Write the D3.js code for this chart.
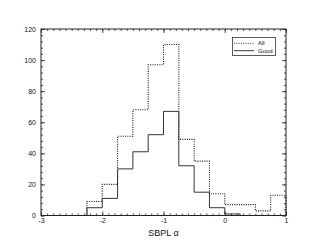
<!DOCTYPE html>
<html><head><meta charset="utf-8">
<script src="https://cdn.jsdelivr.net/npm/d3@7"></script>
<style>
body{margin:0;background:#fff;}
svg{display:block;font-family:"Liberation Sans",Arial,Helvetica,sans-serif;}
</style></head>
<body>
<script>
// Bin edges (SBPL alpha), width 0.25
const binEdges = [-3,-2.75,-2.5,-2.25,-2,-1.75,-1.5,-1.25,-1,-0.75,-0.5,-0.25,0,0.25,0.5,0.75,1];
const allCounts  = [0,0,0,9,20,51,68,97,110,49,35,14,7,7,3,13];
const goodCounts = [0,0,0,5,11,30,41,52,67,32,15,5,1,0,0,0];
const seriesNames = ["All","Good"];
const xTicks = [-3,-2,-1,0,1];
const yTicks = [0,20,40,60,80,100,120];
const xTitle = "SBPL \u03b1";

const W=311,H=249;
const m={l:41,r:25,t:29,b:33.5};
const svg=d3.select("body").append("svg").attr("width",W).attr("height",H);
const x=d3.scaleLinear().domain([-3,1]).range([m.l,W-m.r]);
const y=d3.scaleLinear().domain([0,120]).range([H-m.b,m.t]);

const g=svg.append("g");
const col="#222";

// minor ticks
const xMinor=d3.range(-3,1.0001,0.1).map(v=>+v.toFixed(2));
const yMinor=d3.range(0,120.001,4);

function axisG(axis,tr){
  const a=g.append("g").attr("transform",tr).call(axis);
  a.select(".domain").remove();
  a.selectAll("line").attr("stroke",col).attr("stroke-width",0.8);
  a.selectAll("text").attr("fill","#111").attr("font-size","7px");
  return a;
}
// bottom
axisG(d3.axisBottom(x).tickValues(xMinor).tickSize(-2).tickFormat(""),`translate(0,${H-m.b})`);
axisG(d3.axisBottom(x).tickValues(xTicks).tickSize(-4).tickPadding(3).tickFormat(d=>String(d)),`translate(0,${H-m.b})`);
// top
axisG(d3.axisTop(x).tickValues(xMinor).tickSize(-2).tickFormat(""),`translate(0,${m.t})`);
axisG(d3.axisTop(x).tickValues(xTicks).tickSize(-4).tickFormat(""),`translate(0,${m.t})`);
// left
axisG(d3.axisLeft(y).tickValues(yMinor).tickSize(-2).tickFormat(""),`translate(${m.l},0)`);
axisG(d3.axisLeft(y).tickValues(yTicks).tickSize(-4).tickPadding(5).tickFormat(d=>String(d)),`translate(${m.l},0)`);
// right
axisG(d3.axisRight(y).tickValues(yMinor).tickSize(-2).tickFormat(""),`translate(${W-m.r},0)`);
axisG(d3.axisRight(y).tickValues(yTicks).tickSize(-4).tickFormat(""),`translate(${W-m.r},0)`);

// histogram step paths
function stepPts(counts){
  const pts=[[binEdges[0],0]];
  counts.forEach((c,i)=>{pts.push([binEdges[i],c]);pts.push([binEdges[i+1],c]);});
  pts.push([binEdges[binEdges.length-1],0]);
  return pts;
}
const line=d3.line().x(d=>x(d[0])).y(d=>y(d[1]));
g.append("path").attr("d",line(stepPts(allCounts))).attr("fill","none")
  .attr("stroke","#111").attr("stroke-width",1.1).attr("stroke-dasharray","1,1.3");
g.append("path").attr("d",line(stepPts(goodCounts))).attr("fill","none")
  .attr("stroke","#333").attr("stroke-width",1);

// frame
g.append("rect").attr("x",m.l).attr("y",m.t).attr("width",W-m.l-m.r).attr("height",H-m.t-m.b)
  .attr("fill","none").attr("stroke",col).attr("stroke-width",1);

// x title
svg.append("text").attr("x",(m.l+W-m.r)/2).attr("y",235.5).attr("text-anchor","middle")
  .attr("font-size","9px").attr("fill","#111").text(xTitle);

// legend
const lg=svg.append("g");
lg.append("rect").attr("x",232.5).attr("y",37.5).attr("width",43).attr("height",18)
  .attr("fill","#fff").attr("stroke","#333").attr("stroke-width",0.8);
const lx0=234,lx1=254;
[["All","1,1.3",43.3],["Good",null,50.7]].forEach(([name,dash,yy])=>{
  const l=lg.append("line").attr("x1",lx0).attr("x2",lx1).attr("y1",yy).attr("y2",yy)
    .attr("stroke","#222").attr("stroke-width",0.9);
  if(dash) l.attr("stroke-dasharray",dash);
  lg.append("text").attr("x",258).attr("y",yy+2).attr("font-size","6px").attr("fill","#111").text(name);
});
</script>
</body></html>
